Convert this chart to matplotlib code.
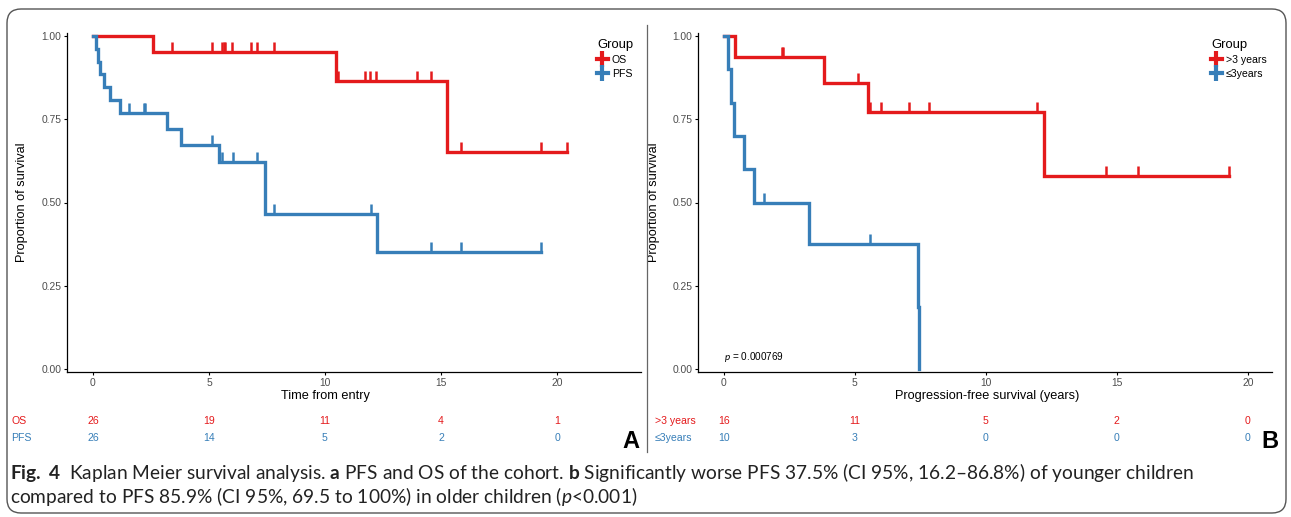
#!/usr/bin/env python
"""Fig. 4: Kaplan-Meier curves, cohort OS/PFS (A) and PFS by age group (B)."""
import numpy as np
import matplotlib
matplotlib.use("Agg")
import matplotlib.pyplot as plt  # noqa: E402
from matplotlib.lines import Line2D  # noqa: E402
from matplotlib.patches import FancyBboxPatch  # noqa: E402
from matplotlib.transforms import IdentityTransform, blended_transform_factory  # noqa: E402

RED = "#E41A1C"
BLUE = "#377EB8"
W, H = 1291, 517

# ---- panel A: OS / PFS of the cohort
os_t = [0, 2.58, 10.46, 15.24, 20.41]
os_s = [1.0, 0.952, 0.866, 0.651, 0.651]
os_cens = [3.42, 5.12, 5.57, 5.64, 5.71, 5.98, 6.82, 7.05, 7.81,
           10.55, 11.71, 11.94, 12.19, 13.98, 14.57, 15.85, 19.30, 20.41]
pfs_t = [0, 0.11, 0.21, 0.32, 0.47, 0.73, 1.15, 3.20, 3.78, 5.44, 7.41, 7.43, 12.25, 19.30]
pfs_s = [1.0, 0.962, 0.923, 0.885, 0.846, 0.808, 0.769, 0.722, 0.674, 0.622, 0.544,
         0.466, 0.35, 0.35]
pfs_cens = [1.54, 2.18, 2.26, 5.12, 5.57, 6.02, 7.05, 7.82, 11.98, 14.59, 15.85, 19.30]
risk_times = [0, 5, 10, 15, 20]
os_risk = [26, 19, 11, 4, 1]
pfs_risk = [26, 14, 5, 2, 0]

# ---- panel B: PFS by age
old_t = [0, 0.43, 3.82, 5.49, 12.23, 19.27]
old_s = [1.0, 0.9375, 0.859, 0.773, 0.58, 0.58]
old_cens = [2.20, 2.27, 5.10, 5.57, 6.00, 7.06, 7.81, 11.95, 14.57, 15.82, 19.27]
young_t = [0, 0.14, 0.27, 0.38, 0.76, 1.15, 3.24, 7.42, 7.44]
young_s = [1.0, 0.9, 0.8, 0.7, 0.6, 0.5, 0.375, 0.1875, 0.0]
young_cens = [1.53, 5.57]
old_risk = [16, 11, 5, 2, 0]
young_risk = [10, 3, 0, 0, 0]
p_text = r"$p$ = 0.000769"

SANS = ["Liberation Sans", "DejaVu Sans"]


def km(ax, t, s, cens, color):
    t = np.asarray(t); s = np.asarray(s)
    ax.step(t, s, where="post", color=color, lw=2.4, solid_joinstyle="miter")
    cy = s[np.searchsorted(t, cens, side="right") - 1]
    ax.plot(cens, cy, ls="none", marker=2, ms=7, mew=1.8, color=color)


def style_axes(ax, xlim):
    ax.set_xlim(*xlim); ax.set_ylim(-0.01, 1.01)
    ax.set_xticks(risk_times)
    ax.set_yticks([0, 0.25, 0.5, 0.75, 1.0])
    ax.set_yticklabels(["0.00", "0.25", "0.50", "0.75", "1.00"])
    for sp in ("top", "right"):
        ax.spines[sp].set_visible(False)
    for sp in ("left", "bottom"):
        ax.spines[sp].set_linewidth(0.9)
    ax.tick_params(length=2.5, width=0.8, pad=1.5, labelsize=7.4, labelcolor="#4D4D4D")
    ax.set_ylabel("Proportion of survival", fontsize=9.2)
    ax.yaxis.set_label_coords(-0.068, 0.5)


def risk_table(fig, ax, rows, label_x):
    tr = blended_transform_factory(ax.transData, fig.transFigure)
    for yy, (name, vals, color) in zip([1 - 421 / H, 1 - 438 / H], rows):
        fig.text(label_x / W, yy, name, color=color, fontsize=7.6, va="center", ha="left",
                 family=SANS)
        for x, v in zip(risk_times, vals):
            ax.text(x, yy, str(v), transform=tr, color=color, fontsize=7.6,
                    va="center", ha="center", clip_on=False)


def legend(ax, labels, x0):
    hs = [Line2D([0], [0], color=c, lw=3.0, marker="|", ms=11, mew=3.0) for c in (RED, BLUE)]
    lg = ax.legend(hs, labels, title="Group", loc="upper left",
                   bbox_to_anchor=(x0 / W, 1 - 39 / H), bbox_transform=ax.figure.transFigure,
                   frameon=False, fontsize=7.6, title_fontsize=9.4, borderpad=0,
                   handlelength=1.0, handletextpad=0.4, labelspacing=0.38,
                   alignment="left", borderaxespad=0)
    return lg


def main():
    plt.rcParams["font.family"] = SANS
    plt.rcParams["mathtext.fontset"] = "custom"
    plt.rcParams["mathtext.rm"] = "Lato"
    plt.rcParams["mathtext.bf"] = "Lato:bold"
    plt.rcParams["mathtext.it"] = "Lato:italic"

    fig = plt.figure(figsize=(W / 100, H / 100), dpi=100)
    bottom = 1 - 372.3 / H
    height = 339.6 / H
    axA = fig.add_axes([67 / W, bottom, 574 / W, height])
    axB = fig.add_axes([698 / W, bottom, 574 / W, height])

    km(axA, os_t, os_s, os_cens, RED)
    km(axA, pfs_t, pfs_s, pfs_cens, BLUE)
    style_axes(axA, (-1.12, 23.62))
    axA.set_xlabel("Time from entry", fontsize=9.2)
    axA.xaxis.set_label_coords((325 - 67) / 574, (372.3 - 390) / 339.6)
    legend(axA, ["OS", "PFS"], 597)
    risk_table(fig, axA, [("OS", os_risk, RED), ("PFS", pfs_risk, BLUE)], 11)

    km(axB, old_t, old_s, old_cens, RED)
    km(axB, young_t, young_s, young_cens, BLUE)
    style_axes(axB, (-0.99, 20.92))
    axB.yaxis.set_label_coords(-0.066, 0.5)
    axB.set_xlabel("Progression-free survival (years)", fontsize=9.2)
    axB.xaxis.set_label_coords((987 - 698) / 574, (372.3 - 390) / 339.6)
    axB.text(0, 0.035, p_text, fontsize=7.2, ha="left", va="center")
    legend(axB, [">3 years", "≤3years"], 1211)
    risk_table(fig, axB, [(">3 years", old_risk, RED), ("≤3years", young_risk, BLUE)], 655)

    fig.text(631 / W, 1 - 441 / H, "A", fontsize=17, weight="bold", ha="center", va="center")
    fig.text(1270 / W, 1 - 441 / H, "B", fontsize=17, weight="bold", ha="center", va="center")

    # frame and divider
    fig.patches.append(FancyBboxPatch((7, 4), 1279, 504, boxstyle="round,pad=0,rounding_size=14",
                                      transform=IdentityTransform(), fill=False,
                                      ec="#555555", lw=1.0))
    fig.lines.append(Line2D([647, 647], [H - 25, H - 452], transform=IdentityTransform(),
                            color="#666666", lw=0.9))

    # caption
    cap1 = (r"$\mathbf{Fig.\ 4}$  Kaplan Meier survival analysis. $\mathbf{a}$ PFS and OS of the "
            r"cohort. $\mathbf{b}$ Significantly worse PFS 37.5% (CI 95%, 16.2–86.8%) of "
            r"younger children")
    cap2 = r"compared to PFS 85.9% (CI 95%, 69.5 to 100%) in older children ($p$<0.001)"
    t1 = fig.text(10 / W, 1 - 472 / H, cap1, fontsize=12, family="Lato", color="#222222",
                  va="center")
    t2 = fig.text(10 / W, 1 - 496 / H, cap2, fontsize=12, family="Lato", color="#222222",
                  va="center")
    fig.canvas.draw()
    w = t1.get_window_extent().width
    size = 12 * 1185 / w
    t1.set_fontsize(size); t2.set_fontsize(size)

    fig.savefig("out.png", dpi=100)


if __name__ == "__main__":
    main()
